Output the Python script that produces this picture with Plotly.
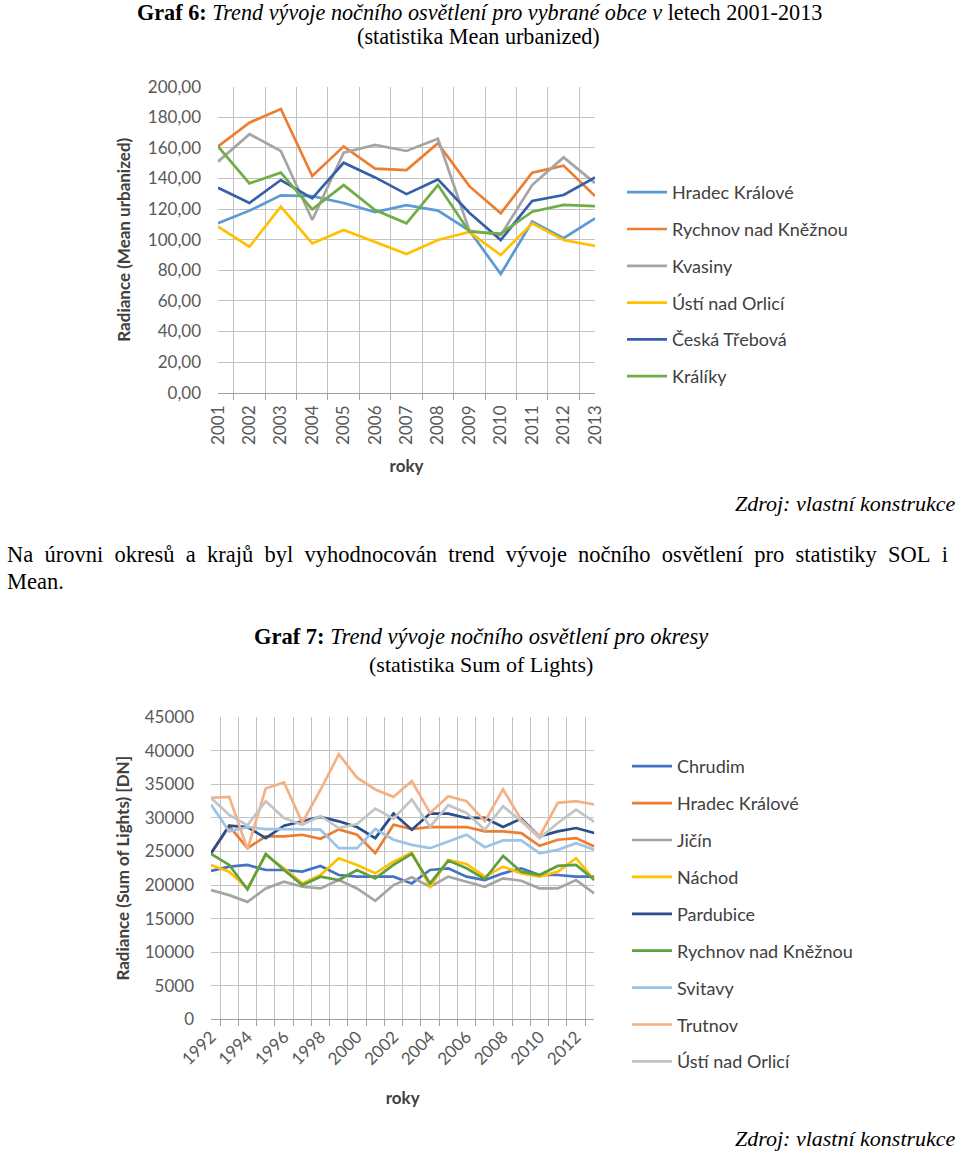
import plotly.graph_objects as go

# ---------------- Data: Graf 6 (Mean urbanized) ----------------
years1 = [str(y) for y in range(2001, 2014)]
names1 = ["Hradec Králové", "Rychnov nad Kněžnou", "Kvasiny", "Ústí nad Orlicí", "Česká Třebová", "Králíky"]
colors1 = ["#5B9BD5", "#ED7D31", "#A5A5A5", "#FFC000", "#3560A8", "#70AD47"]
hradec1 = [110.7, 119.0, 129.0, 128.5, 124.0, 118.0, 122.6, 119.0, 106.0, 77.6, 111.8, 101.0, 114.0]
rychnov1 = [161.0, 176.5, 185.4, 141.6, 161.0, 146.4, 145.5, 163.0, 135.0, 117.2, 143.8, 148.4, 128.5]
kvasiny1 = [151.0, 169.0, 158.0, 112.9, 156.9, 161.9, 158.0, 166.0, 106.0, 103.0, 135.7, 153.8, 137.0]
usti1 = [108.5, 95.4, 121.6, 97.6, 106.3, 98.7, 90.6, 99.8, 105.0, 90.0, 110.7, 99.8, 96.0]
ceska1 = [134.0, 124.0, 139.0, 127.0, 150.3, 140.7, 129.8, 139.4, 117.6, 99.8, 125.3, 129.2, 140.7]
kraliky1 = [161.0, 136.8, 143.8, 119.8, 135.7, 119.4, 110.7, 135.7, 105.2, 104.0, 118.3, 122.7, 122.0]
series1 = [hradec1, rychnov1, kvasiny1, usti1, ceska1, kraliky1]

# ---------------- Data: Graf 7 (Sum of Lights) ----------------
years2 = [str(y) for y in range(1992, 2014)]
ticktext2 = [y if (int(y) % 2 == 0) else "" for y in years2]
names2 = ["Chrudim", "Hradec Králové", "Jičín", "Náchod", "Pardubice",
          "Rychnov nad Kněžnou", "Svitavy", "Trutnov", "Ústí nad Orlicí"]
colors2 = ["#4472C4", "#ED7D31", "#A5A5A5", "#FFC000", "#2A4D8C",
           "#5FA03C", "#9DC3E6", "#F4B183", "#C4C4C4"]
chrudim = [22100, 22750, 23000, 22250, 22250, 22000, 22850, 21500, 21250, 21250, 21250, 20250,
           22250, 22500, 21250, 20750, 21750, 22500, 21500, 21500, 21250, 21250]
hradec2 = [24700, 28800, 25500, 27250, 27250, 27500, 26900, 28300, 27500, 24750, 29000, 28350,
           28650, 28650, 28650, 28000, 28000, 27750, 25850, 26750, 27000, 25750]
jicin = [19250, 18500, 17500, 19500, 20500, 19750, 19500, 20750, 19500, 17650, 20000, 21150,
         19750, 21250, 20500, 19750, 21000, 20650, 19500, 19500, 20750, 18750]
nachod = [23000, 22000, 19500, 24500, 22500, 20250, 21500, 24000, 23000, 21750, 23500, 24850,
          19750, 23750, 23150, 21250, 22750, 21750, 21250, 22000, 24000, 20750]
pardubice = [24750, 28850, 28650, 27000, 28850, 29500, 30150, 29500, 28650, 27000, 30650, 28250,
             30650, 30650, 30000, 30000, 28650, 29900, 27250, 28000, 28500, 27750]
rychnov2 = [24650, 23000, 19350, 24650, 22250, 20000, 21250, 20750, 22250, 21000, 23000, 24650,
            20250, 23650, 22500, 20900, 24350, 22000, 21500, 22850, 23000, 20750]
svitavy = [32000, 28000, 28650, 28350, 28350, 28250, 28250, 25500, 25500, 28350, 26750, 26000,
           25500, 26500, 27500, 25650, 26650, 26650, 24750, 25250, 26250, 25250]
trutnov = [33000, 33150, 25350, 34400, 35300, 29300, 34200, 39500, 36000, 34250, 33150, 35500,
           30750, 33250, 32500, 29500, 34250, 29750, 27250, 32250, 32500, 32000]
usti2 = [33000, 30450, 28900, 32500, 30000, 29000, 30300, 28500, 29100, 31400, 29900, 32750,
         28700, 31900, 30750, 28250, 31750, 29500, 27000, 29250, 31250, 29400]
series2 = [chrudim, hradec2, jicin, nachod, pardubice, rychnov2, svitavy, trutnov, usti2]

W, H = 960, 1151
def px(x):
    return x / W
def py(y):
    return 1 - y / H

fig = go.Figure()
for i, (n, c, v) in enumerate(zip(names1, colors1, series1)):
    fig.add_trace(go.Scatter(x=years1, y=v, name=n, mode="lines",
                             line=dict(color=c, width=2.7), xaxis="x", yaxis="y",
                             legend="legend", legendgroup="a%d" % i))
for i, (n, c, v) in enumerate(zip(names2, colors2, series2)):
    fig.add_trace(go.Scatter(x=years2, y=v, name=n, mode="lines",
                             line=dict(color=c, width=2.7), xaxis="x2", yaxis="y2",
                             legend="legend2", legendgroup="b%d" % i))

grid = "#C3C3C3"
tickfont = dict(family="Lato", size=17, color="#595959")
titlefont = dict(family="Lato", size=17, color="#404040", weight="bold")
legfont = dict(family="Lato", size=18, color="#404040")

fig.update_layout(
    width=W, height=H, margin=dict(l=0, r=0, t=0, b=0, autoexpand=False),
    paper_bgcolor="white", plot_bgcolor="white",
    separators=", ",
    showlegend=True,
    xaxis=dict(domain=[px(218), px(595)], anchor="y", type="category",
               tickson="boundaries", showgrid=True, gridcolor=grid, gridwidth=1,
               ticks="outside", ticklen=6, tickcolor="#A0A0A0",
               showline=True, linecolor="#A0A0A0", linewidth=1,
               tickangle=-90, tickfont=tickfont, automargin=False, ticklabelstandoff=5,
               title=dict(text="roky", font=titlefont, standoff=16)),
    yaxis=dict(domain=[py(392.7), py(86.7)], anchor="x", range=[0, 200], dtick=20,
               tickformat=".2f", showgrid=True, gridcolor=grid, gridwidth=1,
               zeroline=False, tickfont=tickfont, ticklabelstandoff=16, automargin=False,
               title=dict(text="Radiance (Mean urbanized)", font=titlefont, standoff=12)),
    xaxis2=dict(domain=[px(211), px(594.3)], anchor="y2", type="category",
                tickson="boundaries", tickmode="array", tickvals=years2, ticktext=ticktext2,
                showgrid=True, gridcolor=grid, gridwidth=1,
                ticks="outside", ticklen=6, tickcolor="#A0A0A0",
                showline=True, linecolor="#A0A0A0", linewidth=1,
                tickangle=-45, tickfont=tickfont, automargin=False,
                title=dict(text="roky", font=titlefont, standoff=24)),
    yaxis2=dict(domain=[py(1019.3), py(717.3)], anchor="x2", range=[0, 45000], dtick=5000,
                tickformat="d", showgrid=True, gridcolor=grid, gridwidth=1,
                zeroline=False, tickfont=tickfont, ticklabelstandoff=16, automargin=False,
                title=dict(text="Radiance (Sum of Lights) [DN]", font=titlefont, standoff=10)),
    legend=dict(x=px(622), y=py(174), xanchor="left", yanchor="top",
                font=legfont, tracegroupgap=10.4, itemwidth=40, bgcolor="rgba(0,0,0,0)"),
    legend2=dict(x=px(627), y=py(748), xanchor="left", yanchor="top",
                 font=legfont, tracegroupgap=10.5, itemwidth=40, bgcolor="rgba(0,0,0,0)"),
)

para1 = "Na úrovni okresů a krajů byl vyhodnocován trend vývoje nočního osvětlení pro statistiky SOL i"
para1_justified = para1.replace(" ", "\u00a0\u00a0")

serif = "Liberation Serif"
ann = [
    dict(x=px(135), y=py(13), xanchor="left", yanchor="middle",
         text="<b>Graf 6:</b> <i>Trend vývoje nočního osvětlení pro vybrané obce v</i> letech 2001-2013", size=22.2),
    dict(x=px(478), y=py(37), xanchor="center", yanchor="middle",
         text="(statistika Mean urbanized)", size=22.2),
    dict(x=px(958), y=py(504), xanchor="right", yanchor="middle",
         text="<i>Zdroj: vlastní konstrukce</i>", size=22),
    dict(x=px(5), y=py(554), xanchor="left", yanchor="middle", text=para1_justified, size=22.5),
    dict(x=px(5), y=py(581), xanchor="left", yanchor="middle", text="Mean.", size=22.5),
    dict(x=px(481), y=py(637), xanchor="center", yanchor="middle",
         text="<b>Graf 7:</b> <i>Trend vývoje nočního osvětlení pro okresy</i>", size=22.5),
    dict(x=px(481), y=py(664), xanchor="center", yanchor="middle",
         text="(statistika Sum of Lights)", size=22),
    dict(x=px(958), y=py(1138), xanchor="right", yanchor="middle",
         text="<i>Zdroj: vlastní konstrukce</i>", size=22),
]
for a in ann:
    size = a.pop("size")
    fig.add_annotation(xref="paper", yref="paper", showarrow=False,
                       font=dict(family=serif, size=size, color="black"), **a)

fig.write_html("out.html", config={"displayModeBar": False},
               post_script="document.body.style.margin='0';")
